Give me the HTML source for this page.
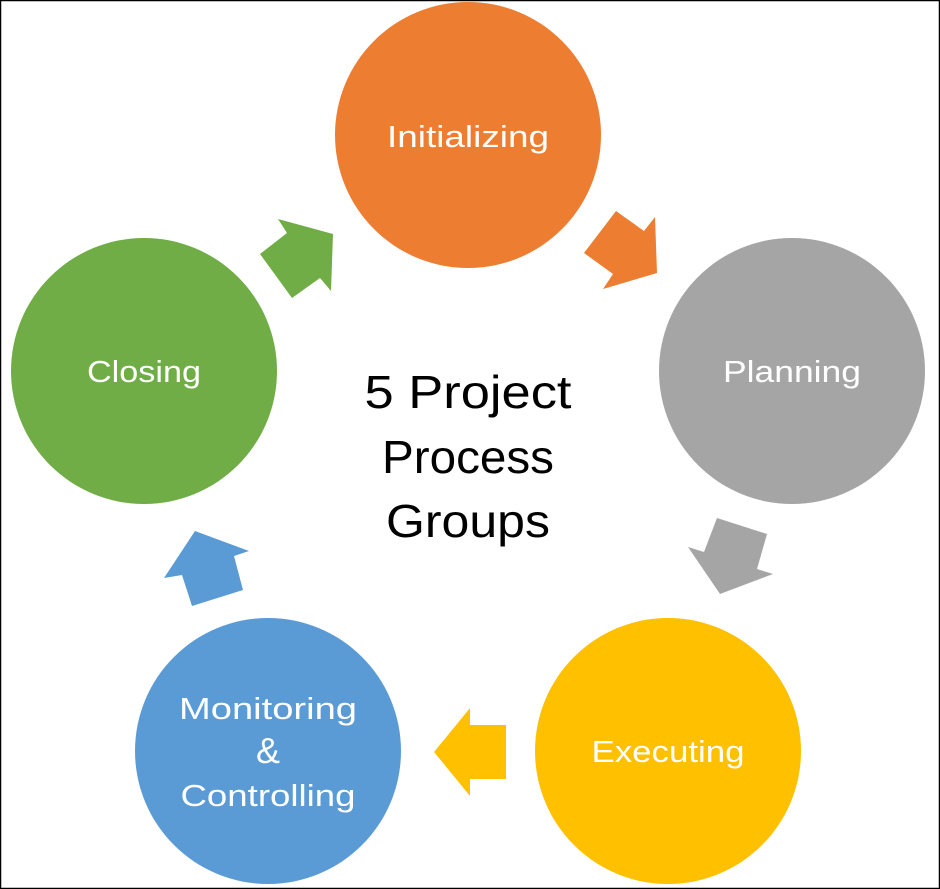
<!DOCTYPE html>
<html><head><meta charset="utf-8"><style>
html,body{margin:0;padding:0;background:#fff;}
svg{display:block;}
text{font-family:"Liberation Sans",sans-serif;}
</style></head><body>
<svg width="940" height="889" viewBox="0 0 940 889" xmlns="http://www.w3.org/2000/svg">
<rect x="0.5" y="0.5" width="939" height="888" fill="#fff" stroke="#000" stroke-width="1.5"/>
<circle cx="468" cy="135" r="133" fill="#ED7D31"/>
<circle cx="792" cy="371" r="133" fill="#A5A5A5"/>
<circle cx="668" cy="751" r="133" fill="#FFC000"/>
<circle cx="268" cy="751" r="133" fill="#5B9BD5"/>
<circle cx="144" cy="371" r="133" fill="#70AD47"/>
<polygon points="278,219 333,234 331,291 320,278 292,298 260,254 287,233" fill="#70AD47"/>
<polygon points="616,211 644,231 655,217 657,273 603,289 613,274 584,253" fill="#ED7D31"/>
<polygon points="717,518 767,534 757,569 773,574 720,594 688,547 704,552" fill="#A5A5A5"/>
<polygon points="434,752 470,708 470,725 506,725 506,779 470,779 470,796" fill="#FFC000"/>
<polygon points="195,531 249,551 234,556 243,590 192,606 182,575 164,578" fill="#5B9BD5"/>
<g fill="#fff" font-size="31" text-anchor="middle">
<text x="468" y="147" textLength="162" lengthAdjust="spacingAndGlyphs">Initializing</text>
<text x="792" y="382" textLength="138" lengthAdjust="spacingAndGlyphs">Planning</text>
<text x="144" y="382" textLength="114" lengthAdjust="spacingAndGlyphs">Closing</text>
<text x="668" y="762" textLength="153" lengthAdjust="spacingAndGlyphs">Executing</text>
<text x="268" y="719" textLength="178" lengthAdjust="spacingAndGlyphs">Monitoring</text>
<text x="268" y="763" font-size="36">&amp;</text>
<text x="268" y="806" textLength="175" lengthAdjust="spacingAndGlyphs">Controlling</text>
</g>
<g fill="#000" font-size="46" text-anchor="middle">
<text x="468" y="408" textLength="207" lengthAdjust="spacingAndGlyphs">5 Project</text>
<text x="468" y="473" textLength="172" lengthAdjust="spacingAndGlyphs">Process</text>
<text x="468" y="537" textLength="164" lengthAdjust="spacingAndGlyphs">Groups</text>
</g>
</svg>
</body></html>
